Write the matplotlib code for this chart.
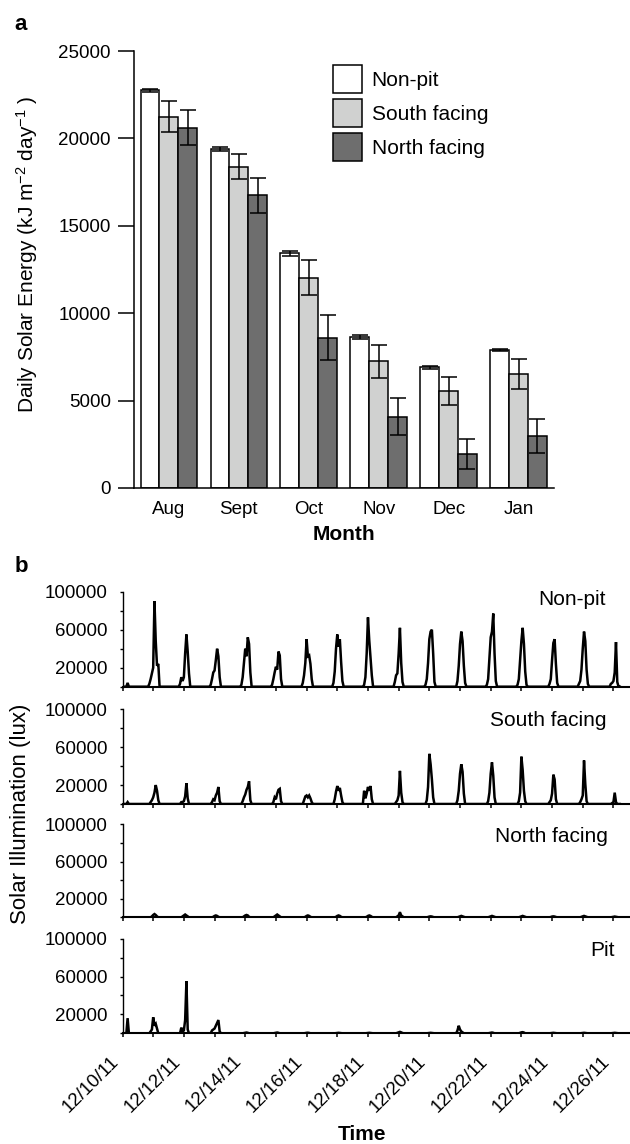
import matplotlib
matplotlib.use('Agg')
import matplotlib.pyplot as plt
import numpy as np

plt.rcParams['font.family'] = ['Liberation Sans', 'DejaVu Sans']
plt.rcParams['mathtext.fontset'] = 'custom'
plt.rcParams['mathtext.rm'] = 'Liberation Sans'
plt.rcParams['mathtext.it'] = 'Liberation Sans:italic'
plt.rcParams['mathtext.bf'] = 'Liberation Sans:bold'

# %% panel a data (kJ m-2 day-1)
months = ['Aug', 'Sept', 'Oct', 'Nov', 'Dec', 'Jan']
sites_a = ['Non-pit', 'South facing', 'North facing']
nonpit_energy = [22750, 19400, 13420, 8660, 6900, 7890]
nonpit_err = [100, 100, 150, 120, 80, 80]
south_energy = [21250, 18380, 12030, 7250, 5570, 6520]
south_err = [900, 700, 1000, 930, 800, 860]
north_energy = [20600, 16740, 8600, 4080, 1930, 2990]
north_err = [1000, 1000, 1300, 1050, 850, 960]

# %% panel b data: hourly readings (klux) around each midnight tick, one row per day
hour_offsets = [-4, -3, -2, -1, 0, 1, 2, 3, 4, 5]
date_labels = ['12/10/11', '', '12/12/11', '', '12/14/11', '', '12/16/11', '',
               '12/18/11', '', '12/20/11', '', '12/22/11', '', '12/24/11', '', '12/26/11']
sites_b = ['Non-pit', 'South facing', 'North facing', 'Pit']

nonpit_lux = [
    [0, 0, 0, 0, 0, 0, 0, 0, 4, 0],
    [0, 3, 8, 14, 20, 90, 48, 22, 24, 0],
    [0, 3, 10, 6, 10, 35, 55, 37, 14, 0],
    [0, 2, 8, 15, 17, 28, 40, 32, 10, 0],
    [0, 2, 10, 25, 40, 32, 52, 45, 15, 0],
    [0, 2, 8, 15, 21, 18, 37, 33, 8, 0],
    [0, 4, 12, 25, 50, 32, 33, 24, 8, 0],
    [0, 4, 16, 40, 55, 42, 50, 26, 6, 0],
    [0, 2, 10, 35, 73, 49, 30, 12, 0, 0],
    [0, 5, 12, 14, 35, 62, 25, 5, 0, 0],
    [0, 2, 8, 25, 50, 58, 60, 35, 5, 0],
    [0, 0, 6, 22, 45, 58, 48, 22, 4, 0],
    [0, 2, 8, 30, 52, 58, 77, 35, 6, 0],
    [0, 2, 8, 28, 48, 62, 45, 16, 2, 0],
    [0, 0, 3, 8, 28, 46, 50, 24, 4, 0],
    [0, 3, 6, 18, 40, 58, 48, 18, 3, 0],
    [0, 0, 3, 4, 6, 15, 47, 5, 0, 0],
]
south_lux = [
    [0, 0, 0, 0, 0, 0, 0, 0, 2, 0],
    [0, 0, 2, 4, 7, 12, 20, 14, 4, 0],
    [0, 0, 2, 2, 3, 8, 22, 6, 0, 0],
    [0, 0, 2, 5, 4, 9, 12, 18, 3, 0],
    [0, 0, 3, 7, 10, 15, 18, 24, 4, 0],
    [0, 0, 2, 7, 5, 11, 15, 16, 3, 0],
    [0, 0, 4, 8, 9, 7, 9, 6, 2, 0],
    [0, 0, 5, 13, 19, 14, 17, 9, 2, 0],
    [0, 14, 6, 11, 18, 14, 19, 5, 0, 0],
    [0, 0, 2, 4, 9, 35, 12, 2, 0, 0],
    [0, 0, 4, 18, 53, 42, 26, 7, 0, 0],
    [0, 0, 4, 14, 32, 42, 34, 11, 0, 0],
    [0, 0, 3, 12, 32, 44, 30, 7, 0, 0],
    [0, 0, 3, 12, 50, 36, 14, 3, 0, 0],
    [0, 0, 2, 4, 11, 31, 26, 5, 0, 0],
    [0, 0, 2, 5, 9, 46, 21, 3, 0, 0],
    [0, 0, 0, 1, 2, 12, 2, 0, 0, 0],
]
north_lux = [
    [0, 0, 0, 0, 0, 0, 0, 0, 0, 0],
    [0, 0, 0, 1, 2.5, 3.5, 2.5, 1, 0, 0],
    [0, 0, 0, 1, 2, 3, 2, 1, 0, 0],
    [0, 0, 0, 0.5, 1.5, 2, 1.5, 0.5, 0, 0],
    [0, 0, 0, 1, 2, 2.5, 2, 0.5, 0, 0],
    [0, 0, 0, 1, 2, 3, 2, 1, 0, 0],
    [0, 0, 0, 0.5, 1.5, 2, 1.5, 0.5, 0, 0],
    [0, 0, 0, 0.5, 1.5, 2, 1.5, 0.5, 0, 0],
    [0, 0, 0, 0.5, 1.5, 2, 1.5, 0.5, 0, 0],
    [0, 0, 0, 1, 2, 5.5, 2, 1, 0, 0],
    [0, 0, 0, 0.3, 0.8, 1, 0.8, 0.3, 0, 0],
    [0, 0, 0, 0.5, 1, 1.5, 1, 0.5, 0, 0],
    [0, 0, 0, 0.5, 1, 1.5, 1, 0.5, 0, 0],
    [0, 0, 0, 0.5, 1, 1.5, 1, 0.5, 0, 0],
    [0, 0, 0, 0.3, 0.8, 1, 0.8, 0.3, 0, 0],
    [0, 0, 0, 0.5, 1, 1.5, 1, 0.5, 0, 0],
    [0, 0, 0, 0.2, 0.5, 0.8, 0.5, 0.2, 0, 0],
]
pit_lux = [
    [0, 0, 0, 0, 0, 0, 0, 0, 16, 0],
    [0, 0, 2, 4, 17, 8, 10, 5, 0, 0],
    [0, 0, 6, 2, 3, 14, 55, 4, 0, 0],
    [0, 0, 3, 4, 5, 8, 11, 14, 2, 0],
    [0, 0, 0, 0.3, 0.6, 0.8, 0.5, 0, 0, 0],
    [0, 0, 0, 0.3, 0.6, 0.8, 0.5, 0, 0, 0],
    [0, 0, 0, 0.3, 0.5, 0.6, 0.4, 0, 0, 0],
    [0, 0, 0, 0.2, 0.4, 0.5, 0.3, 0, 0, 0],
    [0, 0, 0, 0.2, 0.4, 0.5, 0.3, 0, 0, 0],
    [0, 0, 0, 0.5, 1, 1.5, 1, 0.3, 0, 0],
    [0, 0, 0, 0.2, 0.4, 0.5, 0.3, 0, 0, 0],
    [0, 0, 3, 8, 4, 2, 1, 0, 0, 0],
    [0, 0, 0, 0.3, 0.6, 0.8, 0.5, 0, 0, 0],
    [0, 0, 0, 0.5, 1, 1.2, 0.8, 0, 0, 0],
    [0, 0, 0, 0.2, 0.4, 0.5, 0.3, 0, 0, 0],
    [0, 0, 0, 0.2, 0.4, 0.5, 0.3, 0, 0, 0],
    [0, 0, 0, 0.2, 0.4, 0.5, 0.3, 0, 0, 0],
]

# %% layout helpers
W, H = 630, 1144
fig = plt.figure(figsize=(W / 100, H / 100), dpi=100)


def px_axes(left, top, right, bottom):
    return fig.add_axes([left / W, 1 - bottom / H, (right - left) / W, (bottom - top) / H])


# %% panel a
ax = px_axes(133.8, 51, 553.6, 488)
x = np.arange(len(months))
w = 0.269
bar_kw = dict(width=w, edgecolor='black', linewidth=1.1, zorder=2)
b1 = ax.bar(x - w, nonpit_energy, color='white', **bar_kw)
b2 = ax.bar(x, south_energy, color='#d0d1d0', **bar_kw)
b3 = ax.bar(x + w, north_energy, color='#6e6e6e', **bar_kw)
for off, vals, errs in [(-w, nonpit_energy, nonpit_err), (0, south_energy, south_err),
                        (w, north_energy, north_err)]:
    ax.errorbar(x + off, vals, yerr=errs, fmt='none', ecolor='black',
                elinewidth=1.1, capsize=5.5, capthick=1.1, zorder=3)

ax.set_xlim(-0.5, 5.5)
ax.set_ylim(0, 25000)
ax.set_yticks(range(0, 25001, 5000))
ax.set_xticks(x)
ax.set_xticklabels(months)
for s in ['top', 'right']:
    ax.spines[s].set_visible(False)
for s in ['left', 'bottom']:
    ax.spines[s].set_linewidth(1.1)
ax.tick_params(axis='y', length=11.5, width=1.1, pad=5, labelsize=13.5)
ax.tick_params(axis='x', length=0, pad=9, labelsize=13.5)
ax.set_ylabel('Daily Solar Energy (kJ m$^{-2}$ day$^{-1}$ )', fontsize=15)
ax.yaxis.set_label_coords(-0.223, 0.534)
ax.set_xlabel('Month', fontsize=15, fontweight='bold')
ax.xaxis.set_label_coords(0.5, -0.084)
ax.legend([b1, b2, b3], sites_a, loc='upper left', bbox_to_anchor=(333.3 / W, 1 - 65 / H),
          bbox_transform=fig.transFigure, frameon=False, borderpad=0, borderaxespad=0,
          handlelength=1.39, handleheight=1.69, labelspacing=0.29, handletextpad=0.45,
          fontsize=15)
fig.text(21 / W, 1 - 25 / H, 'a', fontsize=16, fontweight='bold', ha='center', va='center')

# %% panel b
series = [nonpit_lux, south_lux, north_lux, pit_lux]
boxes = [(591.7, 686.7), (709.3, 804), (824.3, 917.3), (938.7, 1033.3)]
title_x = [0.952, 0.954, 0.956, 0.970]
title_y = [0.913, 0.887, 0.874, 0.88]
n_days = len(date_labels)
for i, (rows, (top, bottom)) in enumerate(zip(series, boxes)):
    axb = px_axes(122.5, top, 630, bottom)
    t = np.concatenate([d + np.array(hour_offsets) / 24 for d in range(len(rows))])
    y = np.concatenate([np.array(r, dtype=float) for r in rows]) * 1000
    axb.plot(t, y, color='black', linewidth=1.8, solid_joinstyle='miter')
    axb.set_xlim(0, 16.54)
    axb.set_ylim(0, 100000)
    axb.set_yticks([20000, 60000, 100000])
    axb.set_yticklabels(['20000', '60000', '100000'])
    axb.set_yticks([0, 40000, 80000], minor=True)
    axb.set_xticks(range(n_days))
    for s in ['top', 'right']:
        axb.spines[s].set_visible(False)
    axb.spines['left'].set_linewidth(1.0)
    axb.spines['bottom'].set_linewidth(1.5)
    axb.tick_params(axis='y', which='both', length=2.5, width=1.0, pad=8, labelsize=13.5)
    axb.tick_params(axis='x', length=3, width=1.1, pad=11, labelsize=13.5)
    if i == len(series) - 1:
        axb.set_xticklabels(date_labels, rotation=45, ha='right', va='top')
    else:
        axb.set_xticklabels([])
    axb.text(title_x[i], title_y[i], sites_b[i], transform=axb.transAxes,
             ha='right', va='center', fontsize=15)

fig.text(361.5 / W, 1 - 1134 / H, 'Time', fontsize=15, fontweight='bold',
         ha='center', va='center')
fig.text(21 / W, 1 - 814 / H, 'Solar Illumination (lux)', rotation=90, fontsize=16,
         ha='center', va='center')
fig.text(21 / W, 1 - 567 / H, 'b', fontsize=16, fontweight='bold', ha='center', va='center')

fig.savefig('out.png', dpi=100)
